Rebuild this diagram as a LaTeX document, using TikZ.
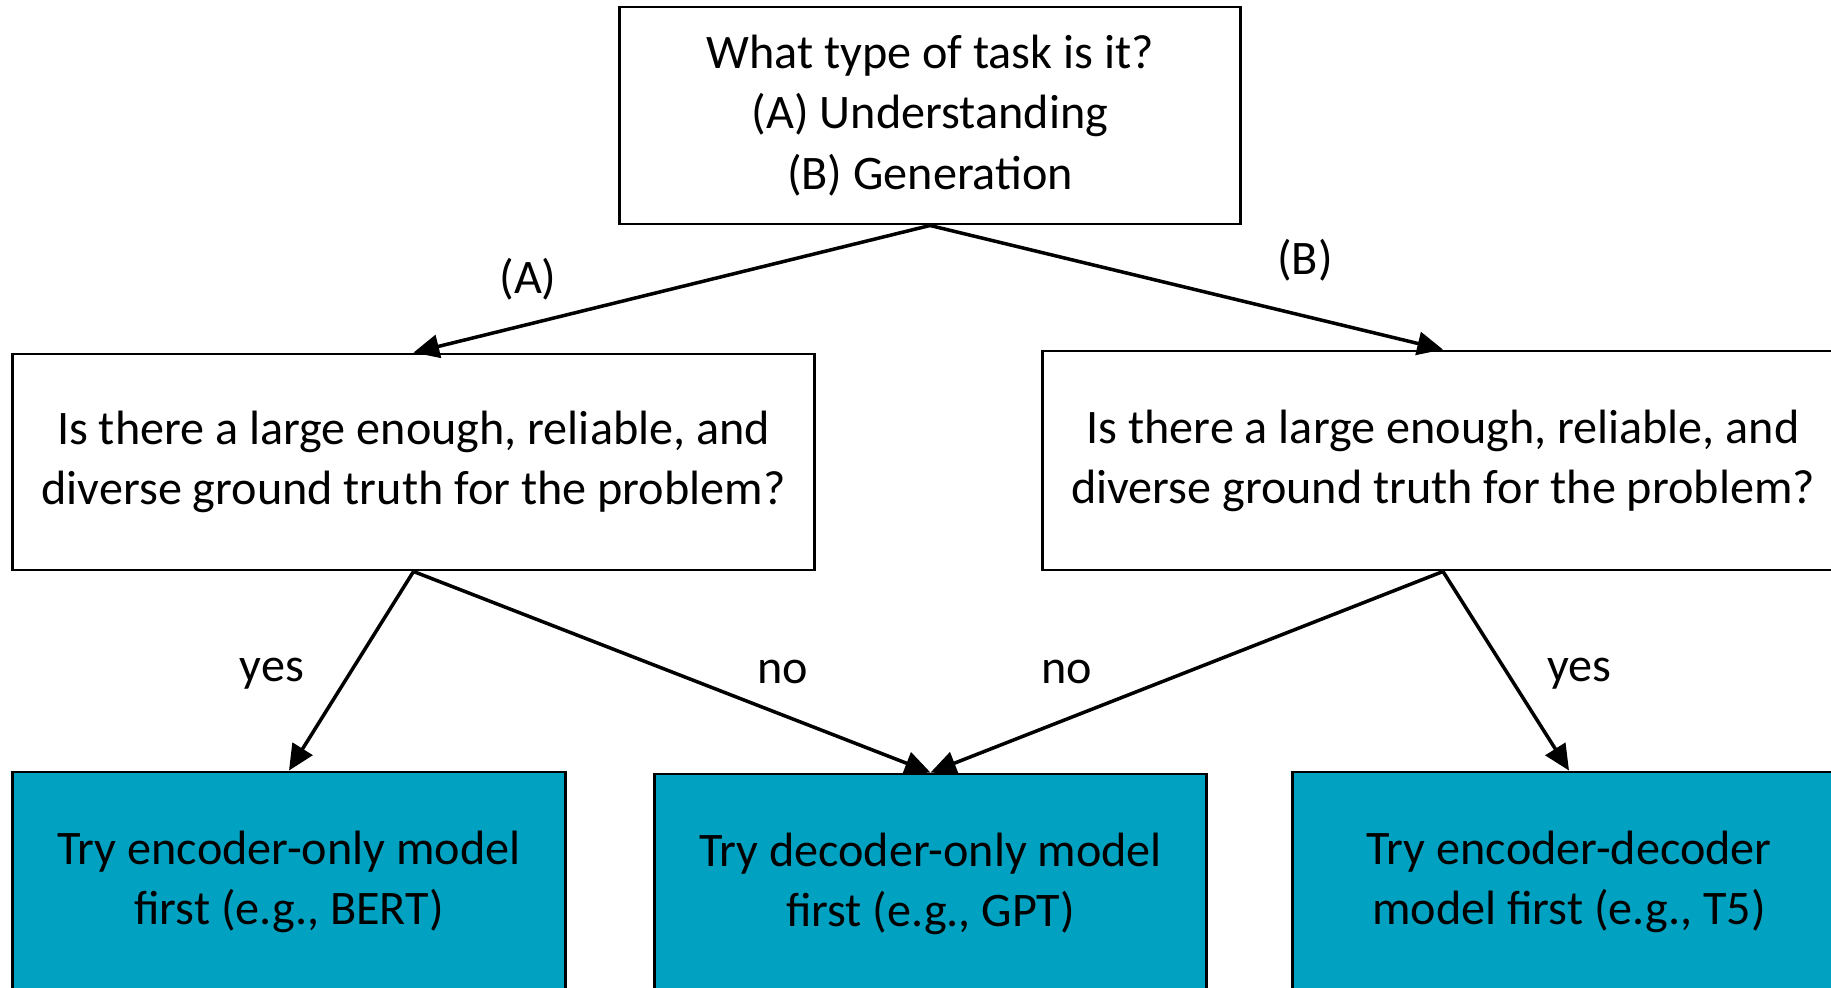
\documentclass[tikz,border=0pt]{standalone}
\usepackage{fontspec}
\setmainfont{Carlito}
\usetikzlibrary{arrows.meta}
\definecolor{tealbox}{RGB}{0,161,193}

\begin{document}
\begin{tikzpicture}[x=0.01cm, y=-0.01cm,
        box/.style={draw, line width=0.8pt, align=center, inner sep=0pt,
                    font=\fontsize{13.7}{17.1}\selectfont},
        model/.style={box, fill=tealbox, minimum width=55.2mm, minimum height=22mm},
        arr/.style={-{Triangle[length=7.3pt, width=6.6pt]}, line width=1pt},
        lbl/.style={font=\fontsize{13.7}{16.5}\selectfont}
      ]
      \useasboundingbox (0,0) rectangle (1831,987);
      \fill[white] (0,0) rectangle (1831,987);
      \clip (0,0) rectangle (1831,987);

      \node[box, minimum width=62mm, minimum height=21.7mm] (task) at (930,115.5)
        {What type of task is it?\\(A) Understanding\\(B) Generation};
      \node[box, minimum width=80.1mm, minimum height=21.6mm] (gtA) at (413.5,462)
        {Is there a large enough, reliable, and\\diverse ground truth for the problem?};
      \node[box, minimum width=80.1mm, minimum height=21.9mm] (gtB) at (1443,460.5)
        {Is there a large enough, reliable, and\\diverse ground truth for the problem?};

      \node[model] (enc) at (289,882) {Try encoder-only model\\first (e.g.,  BERT)};
      \node[model, minimum width=55.1mm] (dec) at (930.5,884) {Try decoder-only model\\first (e.g.,  GPT)};
      \node[model] (encdec) at (1569,882) {Try encoder-decoder\\model first (e.g., T5)};

      \draw[arr] (task.south) -- (gtA.north);
      \draw[arr] (task.south) -- (gtB.north);
      \draw[arr] (gtA.south) -- (enc.north);
      \draw[arr] (gtA.south) -- (dec.north);
      \draw[arr] (gtB.south) -- (dec.north);
      \draw[arr] (gtB.south) -- (encdec.north);

      \node[lbl] (labA) at (528,279) {(A)};
      \node[lbl] (labB) at (1305,260) {(B)};
      \node[lbl] (yesA) at (272,674) {yes};
      \node[lbl] (noA) at (783,672) {no};
      \node[lbl] (noB) at (1067,672) {no};
      \node[lbl] (yesB) at (1579,674) {yes};
    \end{tikzpicture}
\end{document}
